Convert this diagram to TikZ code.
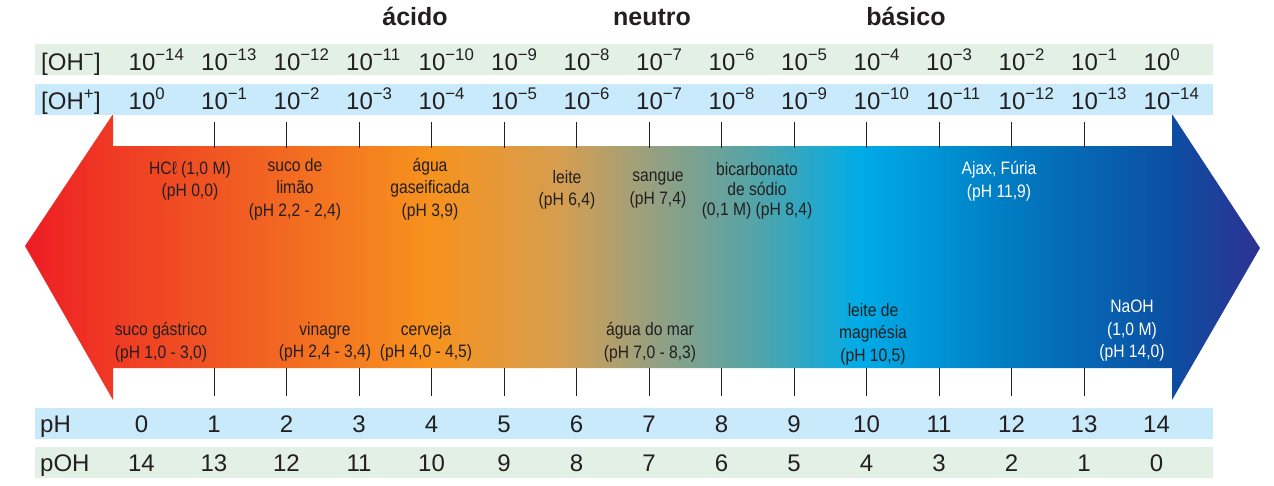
\documentclass[tikz,border=0pt]{standalone}
\usepackage{fontspec}
\setmainfont{Liberation Sans}
\newfontfamily\condfont[FakeStretch=0.87]{Liberation Sans}
\usepackage{tikz}
\usetikzlibrary{calc}
\usepackage{xcolor}
\definecolor{inktext}{RGB}{35,31,32}
\definecolor{bandgreen}{RGB}{226,240,230}
\definecolor{bandblue}{RGB}{200,234,250}
\definecolor{phA}{RGB}{237,28,36}
\definecolor{phB}{RGB}{239,58,36}
\definecolor{phC}{RGB}{241,95,34}
\definecolor{phD}{RGB}{247,146,30}
\definecolor{phE}{RGB}{214,158,80}
\definecolor{phF}{RGB}{152,160,128}
\definecolor{phG}{RGB}{80,164,170}
\definecolor{phH}{RGB}{0,172,232}
\definecolor{phI}{RGB}{0,126,196}
\definecolor{phJ}{RGB}{12,78,162}
\definecolor{phK}{RGB}{46,49,146}
\pgfdeclarehorizontalshading{phshade}{100bp}{color(0bp)=(phA); color(25bp)=(phA);
  color(28.56bp)=(phB); color(34.11bp)=(phC); color(41.40bp)=(phD); color(46.66bp)=(phE);
  color(50.30bp)=(phF); color(54.76bp)=(phG); color(58.81bp)=(phH); color(64.47bp)=(phI);
  color(71.44bp)=(phJ); color(75bp)=(phK); color(100bp)=(phK)}
\newcommand\powten[1]{10\textsuperscript{\ifnum#1=0 0\else−#1\fi}}

\begin{document}
\begin{tikzpicture}[x=1pt, y=-1pt,
  rowtext/.style={font=\fontsize{24}{28}\selectfont, text=inktext, inner sep=0pt},
  heading/.style={font=\bfseries\fontsize{25}{30}\selectfont, text=inktext, anchor=base, inner sep=0pt},
  sample/.style={font=\condfont\fontsize{18}{22.5}\selectfont, text=inktext, align=center, inner sep=0pt},
  tickmark/.style={draw=inktext, line width=0.9pt}]
\useasboundingbox (0,0) rectangle (1274,485);

% Headings
\node[heading] (acido) at (415,25) {ácido};
\node[heading] (neutro) at (652,25) {neutro};
\node[heading] (basico) at (906,25) {básico};

% Arrow with colour scale
\shade[shading=phshade] (25,246) -- (113,114) -- (113,146) -- (1172,146) -- (1172,114)
  -- (1260,248) -- (1172,400) -- (1172,368) -- (113,368) -- (113,400) -- cycle;

% Ticks
\foreach \i in {1,...,13} {
  \draw[tickmark] ({141.5+72.5*\i},122) -- ++(0,26);
  \draw[tickmark] ({141.5+72.5*\i},368) -- ++(0,28);
}

% Bands
\fill[bandgreen] (35,44) rectangle (1213,75);
\fill[bandblue] (35,84) rectangle (1213,115);
\fill[bandblue] (35,408) rectangle (1213,439);
\fill[bandgreen] (35,447) rectangle (1213,478);

% Row labels
\node[rowtext, anchor=base west] (ohm) at (41,70) {[OH\textsuperscript{−}]};
\node[rowtext, anchor=base west] (ohp) at (41,109) {[OH\textsuperscript{+}]};
\node[rowtext, anchor=base west] (ph) at (40,432) {pH};
\node[rowtext, anchor=base west] (poh) at (40,471) {pOH};

% Row values
\foreach \i in {0,...,14} {
  \pgfmathtruncatemacro\ohexp{14-\i}
  \node[rowtext, anchor=base west] (ohm-\i) at ({128.5+72.5*\i},70) {\powten{\ohexp}};
  \node[rowtext, anchor=base west] (ohp-\i) at ({128.5+72.5*\i},109) {\powten{\i}};
  \node[rowtext, anchor=base] (ph-\i) at ({141.5+72.5*\i},432) {\i};
  \node[rowtext, anchor=base] (poh-\i) at ({141.5+72.5*\i},471) {\ohexp};
}

% Samples, upper row
\node[sample] (hcl) at (190,181) {HCℓ (1,0 M)\\(pH 0,0)};
\node[sample] (limao) at (295,189) {suco de\\limão\\(pH 2,2 - 2,4)};
\node[sample] (gaseif) at (430,189) {água\\gaseificada\\(pH 3,9)};
\node[sample] (leite) at (567,190) {leite\\(pH 6,4)};
\node[sample] (sangue) at (658,190) {sangue\\(pH 7,4)};
\node[sample, font=\condfont\fontsize{18}{20}\selectfont] (bicarb) at (757,191) {bicarbonato\\de sódio\\(0,1 M) (pH 8,4)};
\node[sample, text=white] (ajax) at (999,181) {Ajax, Fúria\\(pH 11,9)};

% Samples, lower row
\node[sample] (gastrico) at (161,342) {suco gástrico\\(pH 1,0 - 3,0)};
\node[sample] (vinagre) at (325,342) {vinagre\\(pH 2,4 - 3,4)};
\node[sample] (cerveja) at (426,342) {cerveja\\(pH 4,0 - 4,5)};
\node[sample] (mar) at (650,342) {água do mar\\(pH 7,0 - 8,3)};
\node[sample] (magnesia) at (873,334) {leite de\\magnésia\\(pH 10,5)};
\node[sample, text=white] (naoh) at (1132,331) {NaOH\\(1,0 M)\\(pH 14,0)};
\end{tikzpicture}
\end{document}
